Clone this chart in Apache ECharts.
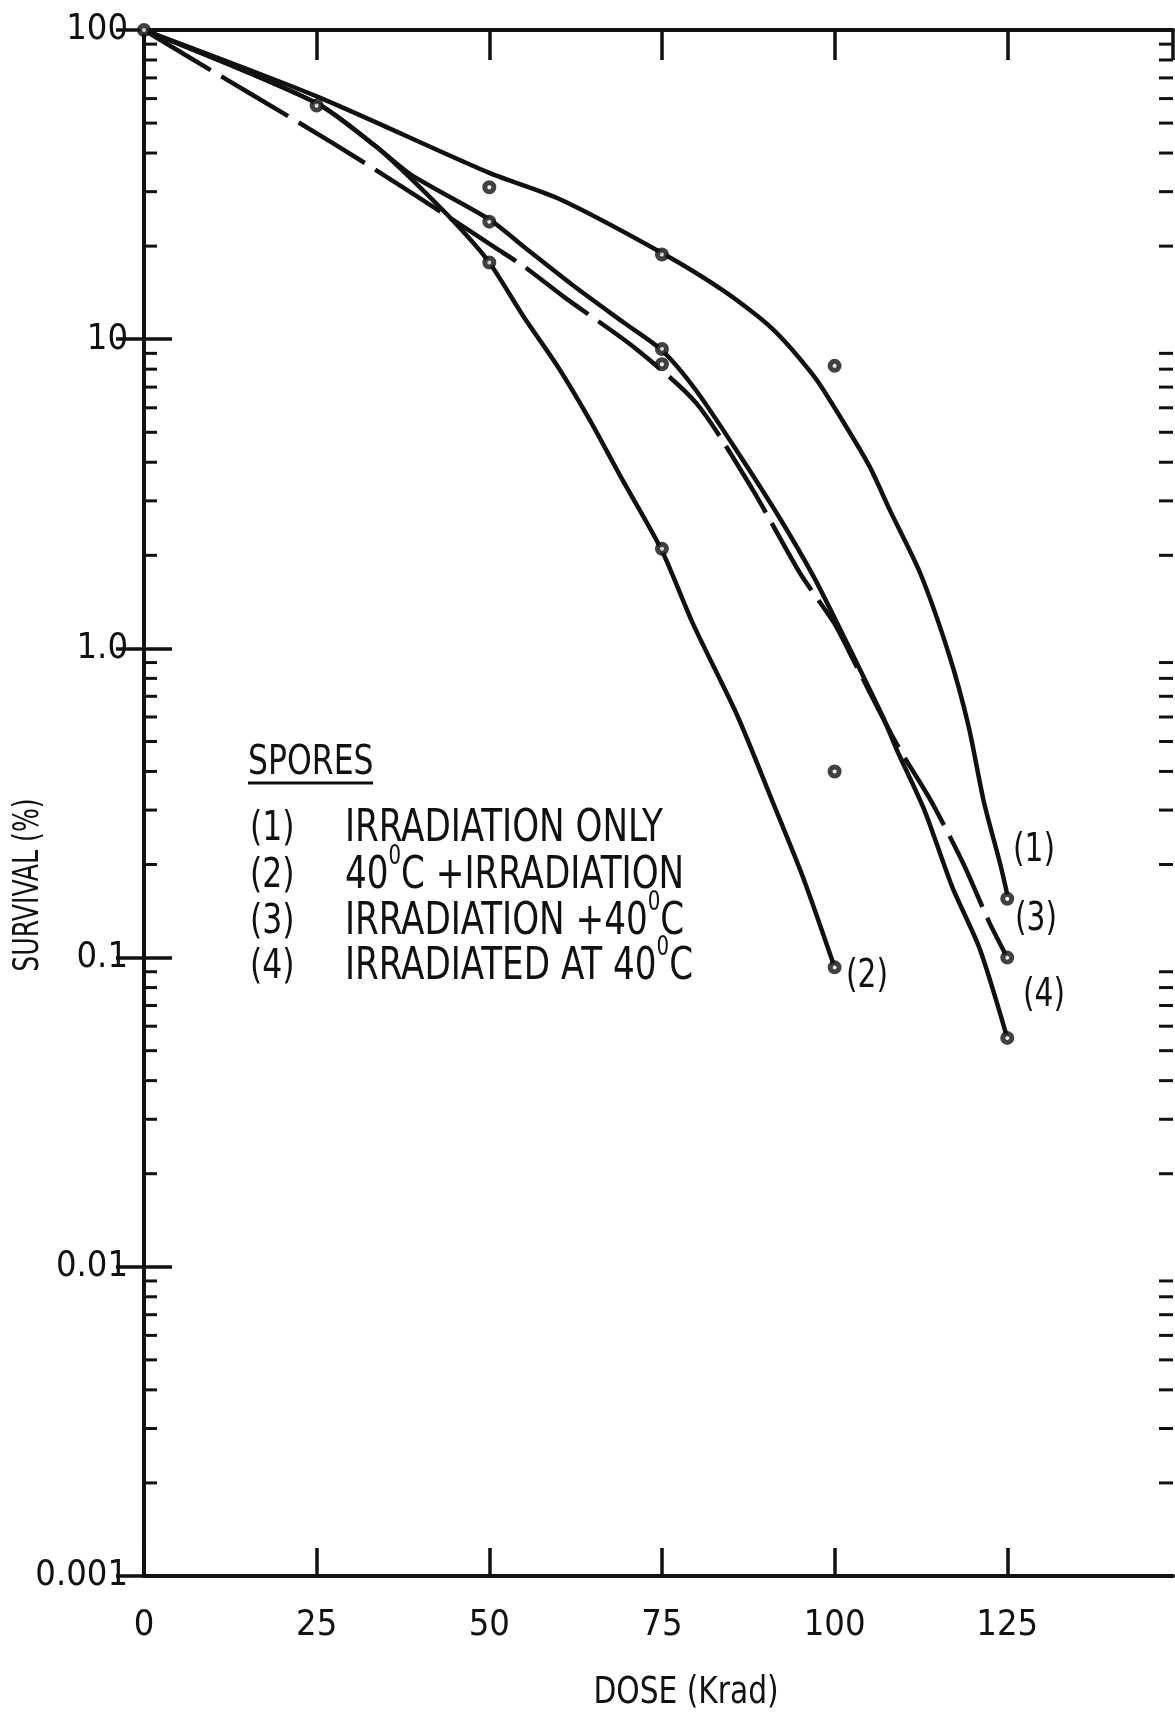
<!DOCTYPE html>
<html>
<head>
<meta charset="utf-8">
<script src="https://cdn.jsdelivr.net/npm/echarts@6/dist/echarts.min.js"></script>
<style>
html,body{margin:0;padding:0;background:#fff;}
#chart{width:1175px;height:1713px;}
</style>
</head>
<body>
<div id="chart"></div>
<script>
// ---------------- data ----------------
const doseTickLabels = [0, 25, 50, 75, 100, 125];
const survivalTickLabels = {'-3': '0.001', '-2': '0.01', '-1': '0.1', '0': '1.0', '1': '10', '2': '100'};

const seriesNames = [
  'IRRADIATION ONLY',
  '40°C +IRRADIATION',
  'IRRADIATION +40°C',
  'IRRADIATED AT 40°C'
];

// hand-drawn fitted curves [dose (Krad), survival (%)]
const curve1 = [[0,100],[25,61],[50,34.5],[60,28.5],[75,19],[84,14.3],[91,10.8],[97,7.6],[100,6.0],[105,3.9],[108,2.8],[112.4,1.75],[116.6,0.95],[119.4,0.56],[121.6,0.32],[124,0.2],[125,0.16]];
const curve2 = [[0,100],[25,58],[33.6,42],[38.7,33],[45.5,23.2],[50,17.7],[55,11.8],[60,8.1],[64.5,5.5],[69,3.6],[75,2.07],[79.5,1.2],[86,0.6],[91,0.32],[95.5,0.18],[100,0.093]];
const curve3 = [[0,100],[6,83],[15,63],[27.4,43],[38.8,29.7],[50.8,19.8],[55,17.2],[61,13.6],[71,9.4],[80,6.2],[88,3.3],[95,1.75],[100,1.2],[103,0.89],[109,0.49],[114,0.32],[118.7,0.2],[122.4,0.13],[125,0.1]];
const curve4 = [[0,100],[25,58],[33.6,42],[38.7,34],[50,24.4],[55,19.9],[62,15],[69.5,11.3],[75,9.2],[80,6.8],[86,4.3],[92,2.65],[97,1.7],[101,1.13],[107,0.6],[109,0.47],[113,0.3],[117,0.17],[121,0.107],[125,0.055]];

// measured points
const points1 = [[0,100],[50,31],[75,18.8],[100,8.2],[125,0.155]];
const points2 = [[50,17.7],[75,2.1],[100,0.093]];
const points3 = [[75,8.3],[125,0.1]];
const points4 = [[25,57],[50,24],[75,9.3],[125,0.055]];
const pointsOther = [[100,0.4]];

// log-axis minor tick positions
const minorMultipliers = [2,3,4,5,6,7,8,9];
const decadeStarts = [0.001, 0.01, 0.1, 1, 10];

// ---------------- chart ----------------
const FONT = "'DejaVu Sans Condensed','Liberation Sans Narrow',sans-serif";
const INK = '#111';
const X_MAX = 149;

const minorTickData = [];
decadeStarts.forEach(d => minorMultipliers.forEach(m => minorTickData.push([0, +(d * m).toPrecision(3)])));

const chart = echarts.init(document.getElementById('chart'), null, {renderer: 'canvas'});

function curveSeries(data, dashed) {
  return {
    type: 'line', data: data, smooth: 0.25,
    showSymbol: false, silent: true, z: 2,
    lineStyle: {color: INK, width: 4.5, type: dashed ? [78, 12] : 'solid', cap: 'butt'}
  };
}
function pointSeries(data) {
  return {
    type: 'scatter', data: data, symbol: 'circle', symbolSize: 9, silent: true, z: 3,
    itemStyle: {color: '#fff', borderColor: INK, borderWidth: 5}
  };
}

const legendRows = [
  {num: '(1)', text: 'IRRADIATION ONLY', y: 829},
  {num: '(2)', text: '40{s|0}C +IRRADIATION', y: 876},
  {num: '(3)', text: 'IRRADIATION +40{s|0}C', y: 922},
  {num: '(4)', text: 'IRRADIATED AT 40{s|0}C', y: 967}
];

const graphics = [];
legendRows.forEach(r => {
  graphics.push({type: 'text', x: 250, y: r.y, scaleY: 1.18, silent: true,
    style: {text: r.num, fill: INK, fontSize: 35, fontFamily: FONT, verticalAlign: 'middle'}});
  graphics.push({type: 'text', x: 345, y: r.y, scaleY: 1.18, silent: true,
    style: {text: r.text, fill: INK, fontSize: 38, fontFamily: FONT, lineHeight: 54,
      verticalAlign: 'middle', align: 'left',
      rich: {s: {fontSize: 22, fontFamily: FONT, fill: INK, verticalAlign: 'top', lineHeight: 22}}}});
});
graphics.push({type: 'text', x: 248, y: 763, scaleY: 1.18, silent: true,
  style: {text: 'SPORES', fill: INK, fontSize: 35, fontFamily: FONT, verticalAlign: 'middle'}});
graphics.push({type: 'line', silent: true, shape: {x1: 248, y1: 783, x2: 373, y2: 783},
  style: {stroke: INK, lineWidth: 3}});
// end-of-curve labels
[['(1)', 1013, 851], ['(2)', 846, 977], ['(3)', 1015, 920], ['(4)', 1023, 996]].forEach(e => {
  graphics.push({type: 'text', x: e[1], y: e[2], scaleY: 1.18, silent: true,
    style: {text: e[0], fill: INK, fontSize: 33, fontFamily: FONT, verticalAlign: 'middle'}});
});
// axis titles
graphics.push({type: 'text', x: 29, y: 885, rotation: Math.PI / 2, scaleY: 1.28, silent: true,
  style: {text: 'SURVIVAL (%)', fill: INK, fontSize: 28, fontFamily: FONT, align: 'center', verticalAlign: 'middle'}});
graphics.push({type: 'text', x: 686, y: 1693, scaleY: 1.15, silent: true,
  style: {text: 'DOSE (Krad)', fill: INK, fontSize: 33, fontFamily: FONT, align: 'center', verticalAlign: 'middle'}});

const axisLineStyle = {show: true, lineStyle: {color: INK, width: 4}};
const option = {
  animation: false,
  backgroundColor: '#fff',
  grid: {left: 144, top: 30, width: 1029, height: 1546, containLabel: false},
  xAxis: [
    {type: 'value', min: 0, max: X_MAX, interval: 25, position: 'bottom',
     axisLine: axisLineStyle,
     axisTick: {show: true, inside: true, length: 28, lineStyle: {color: INK, width: 3.5}},
     axisLabel: {show: true, margin: 32, fontSize: 36, color: INK, fontFamily: FONT, showMaxLabel: false,
       formatter: v => doseTickLabels.indexOf(v) >= 0 ? String(v) : ''},
     splitLine: {show: false}},
    {type: 'value', min: 0, max: X_MAX, interval: 25, position: 'top',
     axisLine: axisLineStyle,
     axisTick: {show: true, inside: true, length: 30, lineStyle: {color: INK, width: 3.5}},
     axisLabel: {show: false}, splitLine: {show: false}}
  ],
  yAxis: [
    {type: 'log', logBase: 10, min: 0.001, max: 100, position: 'left',
     axisLine: axisLineStyle,
     axisTick: {show: true, inside: true, length: 28, lineStyle: {color: INK, width: 3.5}},
     axisLabel: {show: true, margin: 16, fontSize: 36, color: INK, fontFamily: FONT,
       formatter: v => survivalTickLabels[String(Math.round(Math.log10(v)))] || ''},
     splitLine: {show: false}, minorTick: {show: false}},
    {type: 'log', logBase: 10, min: 0.001, max: 100, position: 'right',
     axisLine: axisLineStyle,
     axisTick: {show: true, inside: true, length: 28, lineStyle: {color: INK, width: 3.5}},
     axisLabel: {show: false}, splitLine: {show: false}}
  ],
  graphic: graphics,
  series: [
    {
      type: 'custom', silent: true, z: 1, clip: false, data: minorTickData,
      renderItem: function (params, api) {
        const v = api.value(1);
        const pl = api.coord([0, v]);
        const pr = api.coord([X_MAX, v]);
        return {type: 'group', children: [
          {type: 'line', shape: {x1: pl[0], y1: pl[1], x2: pl[0] + 13, y2: pl[1]}, style: {stroke: INK, lineWidth: 3}},
          {type: 'line', shape: {x1: pr[0] - 14, y1: pr[1], x2: pr[0], y2: pr[1]}, style: {stroke: INK, lineWidth: 3}}
        ]};
      }
    },
    Object.assign(curveSeries(curve1, false), {name: seriesNames[0]}),
    Object.assign(curveSeries(curve2, false), {name: seriesNames[1]}),
    Object.assign(curveSeries(curve3, true), {name: seriesNames[2]}),
    Object.assign(curveSeries(curve4, false), {name: seriesNames[3]}),
    Object.assign(pointSeries(points1), {name: seriesNames[0]}),
    Object.assign(pointSeries(points2), {name: seriesNames[1]}),
    Object.assign(pointSeries(points3), {name: seriesNames[2]}),
    Object.assign(pointSeries(points4), {name: seriesNames[3]}),
    pointSeries(pointsOther)
  ]
};
chart.setOption(option);
</script>
</body>
</html>
